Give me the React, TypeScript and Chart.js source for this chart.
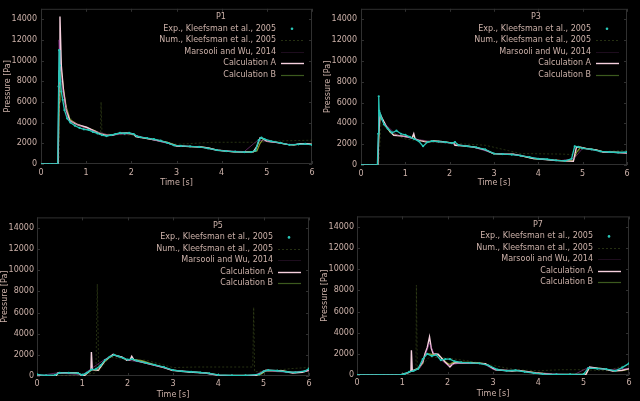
import React, { useEffect, useRef } from "react";
import { Chart, registerables } from "chart.js";

Chart.register(...registerables);

const TEXT = "rgb(205,178,170)";
const FRAME = "rgb(48,48,48)";
const FONT = "DejaVu Sans";

const SERIES_LABELS = [
  "Exp., Kleefsman et al., 2005",
  "Num., Kleefsman et al., 2005",
  "Marsooli and Wu, 2014",
  "Calculation A",
  "Calculation B",
];
const PANEL_TITLES = ["P1", "P3", "P5", "P7"];
const X_TICKS = [0, 1, 2, 3, 4, 5, 6];
const Y_TICKS = [0, 2000, 4000, 6000, 8000, 10000, 12000, 14000];
const X_MAX = 6;
const Y_MAX = 15000;

// ---------- P1 ----------
const P1_EXP_T = [0, 0.2, 0.37, 0.39, 0.4, 0.41, 0.42, 0.43, 0.45, 0.48, 0.52, 0.58, 0.65, 0.75, 0.85, 0.95, 1.05, 1.15, 1.25, 1.35, 1.45, 1.55, 1.65, 1.75, 1.85, 1.95, 2.05, 2.12, 2.2, 2.35, 2.5, 2.65, 2.8, 2.95, 3.1, 3.3, 3.5, 3.7, 3.9, 4.1, 4.3, 4.5, 4.65, 4.75, 4.82, 4.88, 4.95, 5.1, 5.3, 5.5, 5.7, 5.85, 6.0];
const P1_EXP_V = [0, 0, 0, 7500, 11000, 8000, 9500, 8000, 7000, 6200, 5200, 4400, 4000, 3700, 3500, 3350, 3300, 3100, 2950, 2800, 2700, 2800, 2900, 3000, 2950, 3000, 2900, 2700, 2600, 2500, 2400, 2250, 2050, 1800, 1750, 1700, 1650, 1500, 1350, 1250, 1200, 1150, 1150, 1300, 2300, 2550, 2400, 2200, 2050, 1850, 1900, 1950, 1850];
const P1_NUM_T = [0, 0.4, 0.42, 0.5, 0.7, 1.0, 1.32, 1.33, 1.35, 2.0, 3.0, 3.8, 4.7, 4.8, 5.0, 6.0];
const P1_NUM_V = [0, 0, 9000, 6000, 4000, 3300, 3000, 6000, 2900, 2800, 1900, 2100, 2100, 2000, 2200, 2300];
const P1_MAR_T = [0, 0.38, 0.4, 0.45, 0.6, 1.0, 1.5, 2.0, 2.5, 3.0, 3.5, 4.0, 4.5, 4.8, 5.0, 5.5, 6.0];
const P1_MAR_V = [0, 0, 12000, 8000, 4300, 3400, 2800, 2900, 2300, 1800, 1650, 1300, 1200, 2300, 2200, 1900, 1900];
const P1_CALC_T = [0, 0.38, 0.4, 0.42, 0.45, 0.5, 0.56, 0.64, 0.8, 1.01, 1.2, 1.31, 1.46, 1.6, 1.75, 1.9, 2.05, 2.1, 2.15, 2.3, 2.56, 2.8, 3.0, 3.2, 3.53, 3.7, 3.9, 4.1, 4.26, 4.5, 4.7, 4.78, 4.85, 4.92, 5.0, 5.2, 5.45, 5.6, 5.74, 5.9, 6.0];
const P1_CALC_A = [0, 0, 9000, 14250, 9500, 7000, 5200, 4180, 3800, 3550, 3150, 2900, 2750, 2800, 2980, 3000, 2900, 2650, 2600, 2500, 2280, 2050, 1740, 1700, 1650, 1550, 1330, 1250, 1170, 1150, 1170, 1700, 2530, 2450, 2200, 2100, 1900, 1850, 1960, 1950, 1900];
const P1_CALC_B = [0, 0, 6000, 11000, 9000, 7200, 5500, 4300, 3850, 3500, 3200, 2950, 2800, 2850, 2950, 2950, 2850, 2750, 2650, 2500, 2300, 2100, 1800, 1700, 1650, 1550, 1350, 1250, 1200, 1200, 1200, 1250, 2000, 2400, 2200, 2100, 1900, 1850, 1950, 1950, 1900];

// ---------- P3 ----------
const P3_EXP_T = [0, 0.37, 0.39, 0.4, 0.41, 0.42, 0.44, 0.47, 0.52, 0.6, 0.7, 0.8, 0.9, 1.0, 1.1, 1.2, 1.3, 1.4, 1.5, 1.6, 1.75, 1.9, 2.05, 2.12, 2.2, 2.4, 2.6, 2.8, 3.0, 3.2, 3.4, 3.6, 3.8, 4.0, 4.2, 4.4, 4.6, 4.75, 4.82, 4.9, 5.0, 5.2, 5.4, 5.6, 5.8, 6.0];
const P3_EXP_V = [0, 0, 3000, 6600, 5200, 5000, 4800, 4400, 3900, 3500, 3100, 3300, 3000, 2900, 2700, 2500, 2300, 1800, 2200, 2300, 2250, 2200, 2100, 2200, 1900, 1800, 1700, 1500, 1100, 1050, 1000, 900, 750, 600, 550, 450, 400, 600, 1800, 1750, 1600, 1500, 1300, 1250, 1200, 1250];
const P3_NUM_T = [0, 0.4, 0.45, 0.7, 1.0, 1.5, 2.0, 2.8, 3.2, 3.6, 4.5, 4.8, 5.0, 5.5, 6.0];
const P3_NUM_V = [0, 0, 4000, 3000, 2500, 2200, 2100, 1900, 1500, 1100, 1050, 1000, 1600, 1300, 1400];
const P3_MAR_T = [0, 0.38, 0.41, 0.5, 0.8, 1.2, 1.6, 2.0, 2.5, 3.0, 3.5, 4.0, 4.5, 4.8, 5.0, 5.5, 6.0];
const P3_MAR_V = [0, 0, 5000, 4100, 2900, 2500, 2250, 2100, 1750, 1100, 1000, 600, 420, 600, 1600, 1250, 1150];
const P3_CALC_T = [0, 0.38, 0.4, 0.43, 0.5, 0.58, 0.66, 0.74, 0.9, 1.04, 1.15, 1.19, 1.22, 1.3, 1.49, 1.64, 1.8, 2.0, 2.09, 2.12, 2.3, 2.54, 2.8, 2.99, 3.2, 3.44, 3.6, 3.89, 4.1, 4.34, 4.6, 4.79, 4.86, 4.95, 5.09, 5.3, 5.46, 5.7, 6.0];
const P3_CALC_A = [0, 0, 3000, 4900, 4300, 3650, 3200, 2850, 2800, 2700, 2600, 3000, 2500, 2370, 2200, 2300, 2250, 2150, 2100, 1900, 1850, 1730, 1450, 1090, 1050, 1030, 900, 610, 550, 450, 400, 350, 1730, 1700, 1570, 1450, 1250, 1230, 1150];
const P3_CALC_B = [0, 0, 2500, 4700, 4200, 3600, 3150, 2900, 2800, 2700, 2600, 2800, 2500, 2400, 2250, 2300, 2250, 2150, 2150, 1950, 1850, 1750, 1450, 1100, 1050, 1030, 900, 620, 550, 460, 400, 420, 1200, 1700, 1580, 1450, 1260, 1230, 1150];

// ---------- P5 ----------
const P5_EXP_T = [0, 0.2, 0.4, 0.5, 0.7, 0.9, 1.0, 1.1, 1.2, 1.3, 1.4, 1.5, 1.6, 1.7, 1.8, 1.9, 2.0, 2.1, 2.2, 2.4, 2.6, 2.8, 3.0, 3.2, 3.4, 3.6, 3.8, 4.0, 4.3, 4.6, 4.9, 5.0, 5.1, 5.3, 5.5, 5.7, 5.9, 6.0];
const P5_EXP_V = [150, 50, 100, 300, 300, 280, 100, 300, 600, 650, 1000, 1500, 1800, 2000, 1850, 1700, 1550, 1600, 1450, 1250, 1050, 850, 550, 450, 400, 330, 250, 100, 60, 60, 150, 450, 550, 500, 400, 350, 450, 700];
const P5_NUM_T = [0, 0.4, 1.0, 1.3, 1.33, 1.36, 1.6, 2.0, 2.4, 3.0, 3.5, 4.0, 4.5, 4.76, 4.78, 4.8, 5.2, 5.6, 6.0];
const P5_NUM_V = [0, 0, 100, 300, 8700, 400, 1800, 1500, 1500, 800, 850, 850, 850, 850, 6500, 400, 500, 700, 800];
const P5_MAR_T = [0, 0.45, 1.0, 1.2, 1.5, 1.7, 2.0, 2.3, 2.6, 3.0, 3.5, 4.0, 4.8, 5.0, 5.5, 6.0];
const P5_MAR_V = [0, 300, 100, 700, 1600, 2000, 1500, 1300, 1000, 550, 380, 80, 80, 500, 350, 500];
const P5_CALC_T = [0, 0.3, 0.42, 0.46, 0.6, 0.9, 0.98, 1.05, 1.19, 1.2, 1.22, 1.35, 1.5, 1.6, 1.68, 1.75, 1.87, 1.93, 1.98, 2.05, 2.09, 2.14, 2.31, 2.6, 2.8, 2.98, 3.35, 3.72, 4.01, 4.4, 4.83, 4.95, 5.05, 5.42, 5.64, 5.85, 6.0];
const P5_CALC_A = [0, 0, 0, 280, 320, 300, 60, 50, 600, 2270, 600, 540, 1480, 1800, 2050, 1900, 1800, 1650, 1480, 1500, 1860, 1500, 1320, 1000, 800, 540, 380, 280, 60, 40, 60, 300, 540, 470, 280, 350, 540];
const P5_CALC_B = [0, 0, 0, 250, 300, 300, 80, 60, 500, 600, 600, 540, 1400, 1750, 1950, 1950, 1750, 1650, 1500, 1550, 1700, 1550, 1450, 1050, 800, 560, 400, 300, 80, 60, 60, 200, 500, 480, 350, 400, 520];

// ---------- P7 ----------
const P7_EXP_T = [0, 0.5, 0.95, 1.05, 1.15, 1.25, 1.35, 1.45, 1.55, 1.65, 1.75, 1.85, 1.95, 2.05, 2.15, 2.3, 2.5, 2.7, 2.9, 3.1, 3.3, 3.5, 3.7, 3.9, 4.1, 4.4, 4.7, 5.0, 5.1, 5.3, 5.5, 5.7, 5.85, 6.0];
const P7_EXP_V = [0, 0, 0, 100, 300, 400, 600, 1500, 2000, 1800, 1900, 1400, 1500, 1500, 1300, 1200, 1150, 1100, 900, 500, 400, 450, 300, 180, 80, 60, 60, 80, 650, 600, 550, 400, 700, 1100];
const P7_NUM_T = [0, 0.9, 1.2, 1.3, 1.31, 1.33, 1.6, 2.0, 2.5, 3.0, 3.5, 4.0, 4.5, 5.0, 5.5, 6.0];
const P7_NUM_V = [0, 0, 300, 500, 8500, 500, 1700, 1600, 1300, 900, 500, 400, 500, 500, 400, 1000];
const P7_MAR_T = [0, 1.0, 1.2, 1.4, 1.55, 1.6, 1.7, 2.0, 2.3, 2.8, 3.0, 3.5, 4.0, 4.8, 5.1, 5.5, 6.0];
const P7_MAR_V = [0, 0, 350, 700, 2400, 3000, 2000, 900, 1150, 1050, 520, 420, 180, 60, 700, 500, 600];
const P7_CALC_T = [0, 0.95, 1.05, 1.15, 1.19, 1.2, 1.22, 1.35, 1.45, 1.5, 1.55, 1.6, 1.64, 1.68, 1.79, 1.94, 2.0, 2.05, 2.1, 2.16, 2.46, 2.7, 2.83, 3.05, 3.42, 3.57, 3.94, 4.3, 4.7, 5.05, 5.13, 5.3, 5.42, 5.64, 5.85, 6.0];
const P7_CALC_A = [0, 0, 130, 250, 400, 2330, 380, 600, 1200, 2020, 2600, 3600, 2500, 2020, 1960, 1230, 1000, 760, 1000, 1140, 1140, 1100, 1070, 500, 380, 440, 190, 60, 40, 60, 760, 650, 600, 380, 450, 600];
const P7_CALC_B = [0, 0, 100, 250, 380, 400, 400, 650, 1100, 1900, 2000, 2000, 1950, 1950, 1900, 1300, 1100, 1000, 1150, 1200, 1200, 1150, 1050, 520, 400, 420, 220, 80, 60, 80, 700, 650, 580, 400, 420, 550];

const pts = (t: number[], v: number[]) => t.map((x, i) => ({ x, y: v[i] }));

const PANEL_DATA = [
  { exp: pts(P1_EXP_T, P1_EXP_V), num: pts(P1_NUM_T, P1_NUM_V), mar: pts(P1_MAR_T, P1_MAR_V), a: pts(P1_CALC_T, P1_CALC_A), b: pts(P1_CALC_T, P1_CALC_B) },
  { exp: pts(P3_EXP_T, P3_EXP_V), num: pts(P3_NUM_T, P3_NUM_V), mar: pts(P3_MAR_T, P3_MAR_V), a: pts(P3_CALC_T, P3_CALC_A), b: pts(P3_CALC_T, P3_CALC_B) },
  { exp: pts(P5_EXP_T, P5_EXP_V), num: pts(P5_NUM_T, P5_NUM_V), mar: pts(P5_MAR_T, P5_MAR_V), a: pts(P5_CALC_T, P5_CALC_A), b: pts(P5_CALC_T, P5_CALC_B) },
  { exp: pts(P7_EXP_T, P7_EXP_V), num: pts(P7_NUM_T, P7_NUM_V), mar: pts(P7_MAR_T, P7_MAR_V), a: pts(P7_CALC_T, P7_CALC_A), b: pts(P7_CALC_T, P7_CALC_B) },
];

// layout of the four panels (positions / sizes only)
const PANEL_LAYOUT = [
  { left: 0, top: 0, w: 320, h: 200, padTop: 6, padRight: 8, padBottom: 12, yW: 41, xH: 24, yTitlePad: 3, yTickPad: 4, xTickPad: 4 },
  { left: 320, top: 0, w: 320, h: 200, padTop: 8.6, padRight: 13, padBottom: 12, yW: 41, xH: 23, yTitlePad: 3, yTickPad: 4, xTickPad: 4 },
  { left: 0, top: 200, w: 320, h: 201, padTop: 17.4, padRight: 11, padBottom: 1, yW: 37, xH: 24, yTitlePad: 0, yTickPad: 3, xTickPad: 3 },
  { left: 320, top: 200, w: 320, h: 201, padTop: 16.4, padRight: 11, padBottom: 2, yW: 37, xH: 24, yTitlePad: 0, yTickPad: 3, xTickPad: 3 },
];

const framePlugin = {
  id: "gpFrame",
  beforeDatasetsDraw(chart: any) {
    const { ctx, chartArea: a, scales } = chart;
    ctx.save();
    ctx.strokeStyle = FRAME;
    ctx.lineWidth = 1;
    ctx.strokeRect(a.left + 0.5, a.top + 0.5, a.right - a.left - 1, a.bottom - a.top - 1);
    ctx.beginPath();
    for (const v of X_TICKS) {
      const px = Math.round(scales.x.getPixelForValue(v)) + 0.5;
      ctx.moveTo(px, a.bottom); ctx.lineTo(px, a.bottom - 3);
      ctx.moveTo(px, a.top); ctx.lineTo(px, a.top + 3);
    }
    for (const v of Y_TICKS) {
      const py = Math.round(scales.y.getPixelForValue(v)) + 0.5;
      ctx.moveTo(a.left, py); ctx.lineTo(a.left + 3, py);
      ctx.moveTo(a.right, py); ctx.lineTo(a.right - 3, py);
    }
    ctx.stroke();
    ctx.restore();
  },
};

const legendPlugin = {
  id: "gpLegend",
  afterDatasetsDraw(chart: any, _args: any, opts: any) {
    const { ctx, chartArea: a } = chart;
    ctx.save();
    ctx.font = `8px "${FONT}"`;
    ctx.textBaseline = "middle";
    ctx.fillStyle = TEXT;
    ctx.textAlign = "center";
    ctx.fillText(opts.title, a.right - 91, a.top + 8.5);
    ctx.textAlign = "right";
    chart.data.datasets.forEach((ds: any, i: number) => {
      const y = a.top + 20 + i * 11.5;
      ctx.fillStyle = TEXT;
      ctx.fillText(ds.label, a.right - 36, y);
      if (ds.legendDot) {
        ctx.fillStyle = ds.borderColor;
        ctx.beginPath();
        ctx.arc(a.right - 20, y, 1.3, 0, Math.PI * 2);
        ctx.fill();
      } else {
        ctx.strokeStyle = ds.legendColor || ds.borderColor;
        ctx.lineWidth = ds.borderWidth;
        ctx.setLineDash(ds.borderDash || []);
        ctx.beginPath();
        ctx.moveTo(a.right - 31, Math.round(y) + 0.5);
        ctx.lineTo(a.right - 8, Math.round(y) + 0.5);
        ctx.stroke();
        ctx.setLineDash([]);
      }
    });
    ctx.restore();
  },
};

function Panel({ idx }: { idx: number }) {
  const ref = useRef<HTMLCanvasElement | null>(null);
  const L = PANEL_LAYOUT[idx];
  useEffect(() => {
    const d = PANEL_DATA[idx];
    const font = { family: FONT, size: 8 };
    const chart = new Chart(ref.current as HTMLCanvasElement, {
      type: "scatter",
      data: {
        datasets: [
          { label: SERIES_LABELS[0], data: d.exp, legendDot: true, showLine: true, borderColor: "rgb(40,200,185)", backgroundColor: "rgb(40,200,185)", borderWidth: 1.3, pointRadius: 1.1, pointBorderWidth: 0 } as any,
          { label: SERIES_LABELS[1], data: d.num, showLine: true, borderColor: "rgba(95,120,45,0.4)", borderDash: [2, 2], borderWidth: 1, pointRadius: 0 },
          { label: SERIES_LABELS[2], data: d.mar, legendColor: "rgba(120,50,120,0.25)", showLine: true, borderColor: "rgba(180,70,180,0.5)", borderWidth: 1, pointRadius: 0 } as any,
          { label: SERIES_LABELS[3], data: d.a, showLine: true, borderColor: "rgb(246,208,222)", borderWidth: 1.4, pointRadius: 0 },
          { label: SERIES_LABELS[4], data: d.b, legendColor: "rgb(60,90,30)", showLine: true, borderColor: "rgba(160,185,50,0.85)", borderWidth: 1.2, pointRadius: 0 } as any,
        ],
      },
      options: {
        animation: false,
        responsive: false,
        devicePixelRatio: 1,
        layout: { padding: { left: 0, top: L.padTop, right: L.padRight, bottom: L.padBottom } },
        plugins: {
          legend: { display: false },
          tooltip: { enabled: false },
          gpLegend: { title: PANEL_TITLES[idx] },
        } as any,
        scales: {
          x: {
            type: "linear",
            min: 0,
            max: X_MAX,
            afterBuildTicks: (s: any) => { s.ticks = X_TICKS.map((v) => ({ value: v })); },
            afterFit: (s: any) => { s.height = L.xH; },
            grid: { display: false, drawTicks: false },
            border: { display: false },
            ticks: { color: TEXT, font, padding: L.xTickPad, maxRotation: 0, autoSkip: false },
            title: { display: true, text: "Time [s]", color: TEXT, font, padding: { top: 0, bottom: 0 } },
          },
          y: {
            type: "linear",
            min: 0,
            max: Y_MAX,
            afterBuildTicks: (s: any) => { s.ticks = Y_TICKS.map((v) => ({ value: v })); },
            afterFit: (s: any) => { s.width = L.yW; },
            grid: { display: false, drawTicks: false },
            border: { display: false },
            ticks: { color: TEXT, font, padding: L.yTickPad, autoSkip: false, callback: (v: any) => String(v) },
            title: { display: true, text: "Pressure [Pa]", color: TEXT, font, padding: { top: L.yTitlePad, bottom: 0 } },
          },
        },
      },
      plugins: [framePlugin, legendPlugin],
    } as any);
    return () => chart.destroy();
  }, [idx]);
  return (
    <div style={{ position: "absolute", left: L.left, top: L.top, width: L.w, height: L.h }}>
      <canvas ref={ref} width={L.w} height={L.h} style={{ display: "block", width: L.w, height: L.h }} />
    </div>
  );
}

export default function App() {
  return (
    <div style={{ position: "fixed", left: 0, top: 0, width: 640, height: 401, background: "#000", overflow: "hidden" }}>
      {[0, 1, 2, 3].map((i) => (
        <Panel key={i} idx={i} />
      ))}
    </div>
  );
}
